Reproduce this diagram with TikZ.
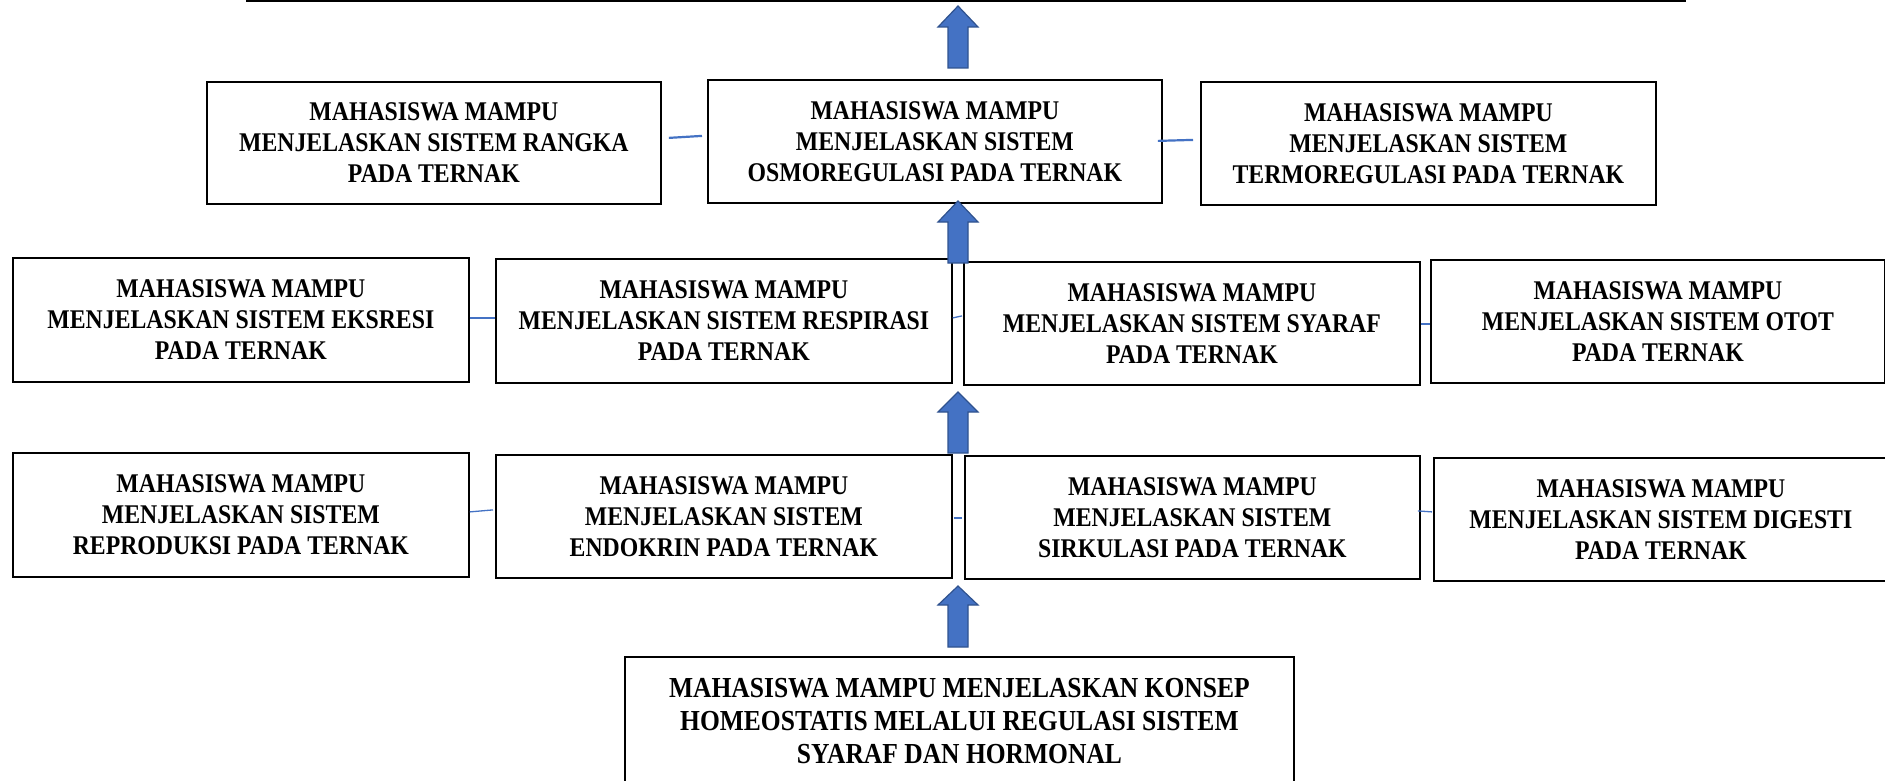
\documentclass[tikz,border=0pt]{standalone}
\usepackage{fontspec}
\setmainfont{Liberation Serif}[FakeStretch=0.88]
\definecolor{arrowfill}{HTML}{4472C4}
\definecolor{arrowline}{HTML}{2F528F}
\definecolor{connblue}{HTML}{4472C4}
\tikzset{
  box/.style={draw=black, line width=1.8pt, fill=white, anchor=north west, align=center,
    inner sep=0pt, font=\bfseries\fontsize{27}{31}\selectfont},
  bigbox/.style={box, font=\bfseries\fontsize{29}{33}\selectfont},
  conn/.style={draw=connblue, line width=1.3pt},
  topconn/.style={draw=connblue, line width=2.2pt},
  blkarrowstyle/.style={fill=arrowfill, draw=arrowline, line width=1.2pt, line join=miter},
  topline/.style={draw=black, line width=3pt}
}
\newcommand\blkarrow[4]{% x, tip y, head base y, bottom y
  \filldraw[blkarrowstyle] (#1-10,#4) -- (#1-10,#3) -- (#1-20,#3) -- (#1,#2) -- (#1+20,#3) -- (#1+10,#3) -- (#1+10,#4) -- cycle;}
\begin{document}
\begin{tikzpicture}[x=1pt,y=-1pt]
\useasboundingbox (0,0) rectangle (1885,781);
\clip (0,0) rectangle (1885,781);
\fill[white] (0,0) rectangle (1885,781);

% top line
\coordinate (tl) at (246,1);
\coordinate (tr) at (1686,1);
\draw[topline] (tl) -- (tr);

% row 1
\node[box, minimum width=454pt, minimum height=122pt] (A) at (206,81) {MAHASISWA MAMPU\\MENJELASKAN SISTEM RANGKA\\PADA TERNAK};
\node[box, minimum width=454pt, minimum height=123pt] (B) at (707,79) {MAHASISWA MAMPU\\MENJELASKAN SISTEM\\OSMOREGULASI PADA TERNAK};
\node[box, minimum width=455pt, minimum height=123pt] (C) at (1200,81) {MAHASISWA MAMPU\\MENJELASKAN SISTEM\\TERMOREGULASI PADA TERNAK};

% row 2
\node[box, minimum width=456pt, minimum height=124pt] (D) at (12,257) {MAHASISWA MAMPU\\MENJELASKAN SISTEM EKSRESI\\PADA TERNAK};
\node[box, minimum width=456pt, minimum height=124pt] (E) at (495,258) {MAHASISWA MAMPU\\MENJELASKAN SISTEM RESPIRASI\\PADA TERNAK};
\node[box, minimum width=456pt, minimum height=123pt] (F) at (963,261) {MAHASISWA MAMPU\\MENJELASKAN SISTEM SYARAF\\PADA TERNAK};
\node[box, minimum width=454pt, minimum height=123pt] (G) at (1430,259) {MAHASISWA MAMPU\\MENJELASKAN SISTEM OTOT\\PADA TERNAK};

% row 3
\node[box, minimum width=456pt, minimum height=124pt] (H) at (12,452) {MAHASISWA MAMPU\\MENJELASKAN SISTEM\\REPRODUKSI PADA TERNAK};
\node[box, minimum width=456pt, minimum height=123pt] (I) at (495,454) {MAHASISWA MAMPU\\MENJELASKAN SISTEM\\ENDOKRIN PADA TERNAK};
\node[box, minimum width=455pt, minimum height=123pt] (J) at (964,455) {MAHASISWA MAMPU\\MENJELASKAN SISTEM\\SIRKULASI PADA TERNAK};
\node[box, minimum width=454pt, minimum height=123pt] (K) at (1433,457) {MAHASISWA MAMPU\\MENJELASKAN SISTEM DIGESTI\\PADA TERNAK};

% bottom
\node[bigbox, minimum width=669pt, minimum height=128pt] (L) at (624,656) {MAHASISWA MAMPU MENJELASKAN KONSEP\\HOMEOSTATIS MELALUI REGULASI SISTEM\\SYARAF DAN HORMONAL};

% connectors
\draw[topconn] ([xshift=7pt,yshift=5pt]A.east) -- ([xshift=-5pt,yshift=5.5pt]B.west);
\draw[topconn] ([xshift=-5pt,yshift=0.5pt]B.east) -- ([xshift=-7pt,yshift=3.5pt]C.west);
\draw[conn] ([yshift=2pt]D.east) -- ([yshift=3pt]E.west);
\draw[conn] ([yshift=3pt]E.east) -- ([xshift=-1pt,yshift=7.5pt]F.west);
\draw[conn] ([yshift=-0.5pt]F.east) -- ([yshift=-2.5pt]G.west);
\draw[conn] ([yshift=3pt]H.east) -- ([xshift=-2pt,yshift=6.5pt]I.west);
\draw[conn] ([xshift=1pt,yshift=-1.5pt]I.east) -- ([xshift=-2pt,yshift=-0.5pt]J.west);
\draw[conn] ([xshift=-3pt,yshift=6.5pt]J.east) -- ([xshift=-1pt,yshift=7.5pt]K.west);

% block arrows
\blkarrow{958}{6}{27}{68}
\blkarrow{958}{201}{222}{263}
\blkarrow{958}{392}{412}{453}
\blkarrow{958}{586}{605}{647}
\end{tikzpicture}
\end{document}
